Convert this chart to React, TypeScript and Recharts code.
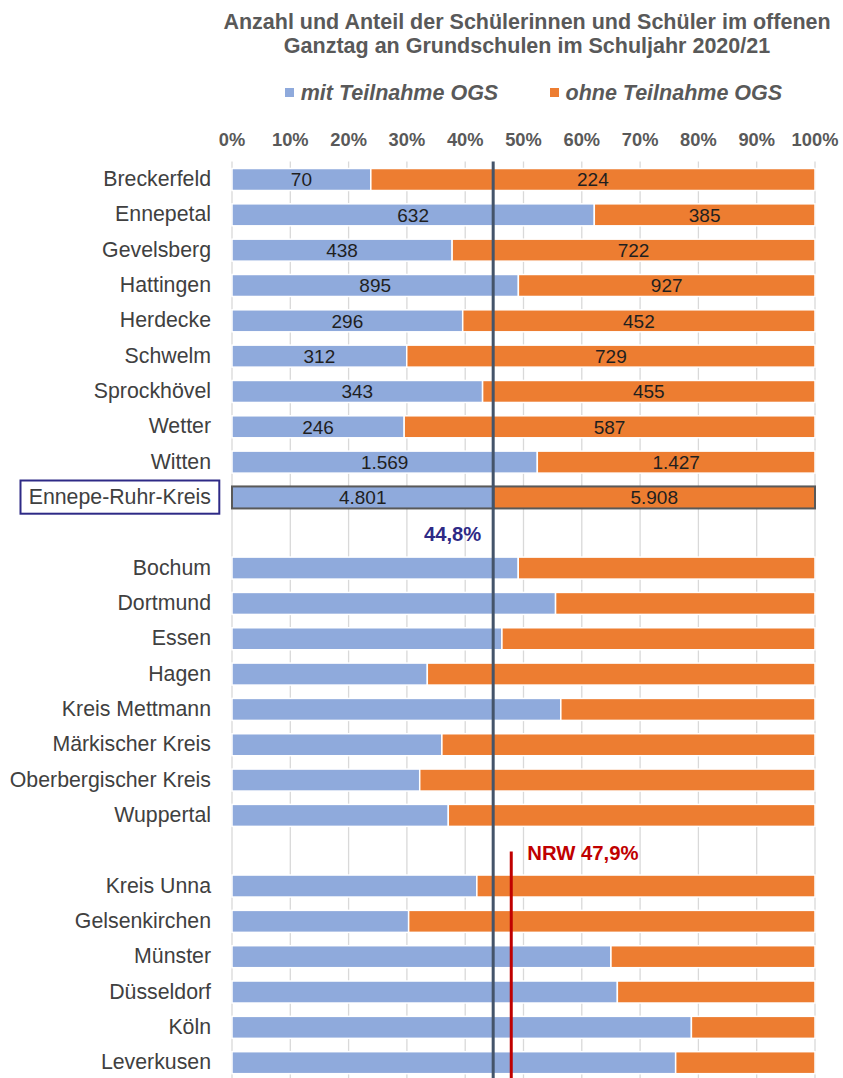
import React from 'react';
import { BarChart, Bar, XAxis, YAxis, CartesianGrid, ReferenceLine, ReferenceDot, LabelList } from 'recharts';

// Ennepe-Ruhr-Kreis und seine Städte (absolute Zahlen)
const ennepeCities = ['Breckerfeld', 'Ennepetal', 'Gevelsberg', 'Hattingen', 'Herdecke', 'Schwelm', 'Sprockhövel', 'Wetter', 'Witten', 'Ennepe-Ruhr-Kreis'];
const mitCounts = [70, 632, 438, 895, 296, 312, 343, 246, 1569, 4801];
const ohneCounts = [224, 385, 722, 927, 452, 729, 455, 587, 1427, 5908];

// Vergleichsregionen (nur Anteile in %)
const nachbarn = ['Bochum', 'Dortmund', 'Essen', 'Hagen', 'Kreis Mettmann', 'Märkischer Kreis', 'Oberbergischer Kreis', 'Wuppertal'];
const nachbarnShare = [49.1, 55.5, 46.3, 33.5, 56.4, 36.0, 32.2, 37.1];
const staedte = ['Kreis Unna', 'Gelsenkirchen', 'Münster', 'Düsseldorf', 'Köln', 'Leverkusen'];
const staedteShare = [42.0, 30.3, 65.0, 66.1, 78.8, 76.1];

const xTicks = [0, 10, 20, 30, 40, 50, 60, 70, 80, 90, 100];
const ERK_SHARE = 44.8;
const NRW_SHARE = 47.9;
const ERK = 'Ennepe-Ruhr-Kreis';

const FONT = 'Liberation Sans, Arial, sans-serif';
const BLUE = '#8FAADC';
const ORANGE = '#ED7D31';

const fmt = (n: number) =>
  n >= 1000 ? Math.floor(n / 1000) + '.' + String(n % 1000).padStart(3, '0') : String(n);

const rows: any[] = [
  ...ennepeCities.map((name, i) => {
    const total = mitCounts[i] + ohneCounts[i];
    return {
      name,
      mit: (mitCounts[i] / total) * 100,
      ohne: (ohneCounts[i] / total) * 100,
      mitLabel: fmt(mitCounts[i]),
      ohneLabel: fmt(ohneCounts[i]),
    };
  }),
  { name: 'gap1' },
  ...nachbarn.map((name, i) => ({ name, mit: nachbarnShare[i], ohne: 100 - nachbarnShare[i] })),
  { name: 'gap2' },
  ...staedte.map((name, i) => ({ name, mit: staedteShare[i], ohne: 100 - staedteShare[i] })),
];

const CategoryTick = (props: any) => {
  const { y, payload } = props;
  const name = payload.value as string;
  if (name.startsWith('gap')) return <g />;
  return (
    <g>
      {name === ERK && (
        <rect x={20.5} y={y - 16.6} width={198.8} height={33.2} fill="#fff" stroke="#2E2A86" strokeWidth={2} />
      )}
      <text x={211} y={y} textAnchor="end" dominantBaseline="central" fontSize={21.3} fill="#404040" fontFamily={FONT}>
        {name}
      </text>
    </g>
  );
};

const PercentTick = (props: any) => {
  const { x, payload } = props;
  return (
    <text x={x} y={139} textAnchor="middle" dominantBaseline="central" fontSize={18.3} fontWeight="bold" fill="#595959" fontFamily={FONT}>
      {payload.value}%
    </text>
  );
};

const segment = (props: any) => {
  const { x, y, width, height, fill, payload } = props;
  if (!width || width <= 0) return <g />;
  const isErk = payload && payload.name === ERK;
  return (
    <rect
      x={x}
      y={y}
      width={width}
      height={height}
      fill={fill}
      stroke={isErk ? '#595959' : '#fff'}
      strokeWidth={isErk ? 2 : 1.5}
    />
  );
};

export default function App() {
  return (
    <div style={{ position: 'relative', width: 843, height: 1078, overflow: 'hidden', fontFamily: FONT }}>
      <style>{'body{margin:0}'}</style>
      <div
        style={{
          position: 'absolute',
          left: 211,
          width: 632,
          top: 11,
          textAlign: 'center',
          fontSize: 21.5,
          lineHeight: '23.6px',
          fontWeight: 'bold',
          color: '#595959',
          whiteSpace: 'nowrap',
        }}
      >
        Anzahl und Anteil der Schülerinnen und Schüler im offenen
        <br />
        Ganztag an Grundschulen im Schuljahr 2020/21
      </div>
      <div style={{ position: 'absolute', left: 285, top: 88.3, width: 8.5, height: 8.5, background: BLUE }} />
      <div style={{ position: 'absolute', left: 300.7, top: 80.7, lineHeight: '24px', fontSize: 21.5, fontWeight: 'bold', fontStyle: 'italic', color: '#595959', whiteSpace: 'nowrap' }}>
        mit Teilnahme OGS
      </div>
      <div style={{ position: 'absolute', left: 550, top: 88.3, width: 8.5, height: 8.5, background: ORANGE }} />
      <div style={{ position: 'absolute', left: 565.5, top: 80.7, lineHeight: '24px', fontSize: 21.5, fontWeight: 'bold', fontStyle: 'italic', color: '#595959', whiteSpace: 'nowrap' }}>
        ohne Teilnahme OGS
      </div>
      <div style={{ position: 'absolute', left: 0, top: 0 }}>
        <BarChart
          width={843}
          height={1080}
          data={rows}
          layout="vertical"
          barSize={22}
          margin={{ top: 131.5, right: 28, bottom: 0, left: 0 }}
        >
          <CartesianGrid horizontal={false} stroke="#D9D9D9" strokeWidth={1.3} />
          <XAxis
            type="number"
            orientation="top"
            domain={[0, 100]}
            ticks={xTicks}
            axisLine={false}
            tickLine={false}
            height={30}
            tick={<PercentTick />}
            interval={0}
          />
          <YAxis
            type="category"
            dataKey="name"
            width={232}
            axisLine={false}
            tickLine={false}
            interval={0}
            tick={<CategoryTick />}
          />
          <Bar dataKey="mit" stackId="a" fill={BLUE} shape={segment} isAnimationActive={false}>
            <LabelList dataKey="mitLabel" position="center" fill="#1F1F1F" fontSize={19} fontFamily={FONT} />
          </Bar>
          <Bar dataKey="ohne" stackId="a" fill={ORANGE} shape={segment} isAnimationActive={false}>
            <LabelList dataKey="ohneLabel" position="center" fill="#1F1F1F" fontSize={19} fontFamily={FONT} />
          </Bar>
          <ReferenceLine x={ERK_SHARE} stroke="#44546A" strokeWidth={3} />
          <ReferenceDot
            x={ERK_SHARE}
            y="gap1"
            r={0}
            shape={(p: any) => (
              <text x={p.cx - 12} y={p.cy + 1.5} textAnchor="end" dominantBaseline="central" fontSize={20.2} fontWeight="bold" fill="#2E2A86" fontFamily={FONT}>
                44,8%
              </text>
            )}
          />
          <ReferenceDot
            x={NRW_SHARE}
            y="gap2"
            r={0}
            shape={(p: any) => (
              <g>
                <line x1={p.cx} x2={p.cx} y1={p.cy + 1} y2={p.cy + 400} stroke="#C00000" strokeWidth={3} />
                <text x={p.cx + 16} y={p.cy + 3} textAnchor="start" dominantBaseline="central" fontSize={20.3} fontWeight="bold" fill="#C00000" fontFamily={FONT}>
                  NRW 47,9%
                </text>
              </g>
            )}
          />
        </BarChart>
      </div>
    </div>
  );
}
